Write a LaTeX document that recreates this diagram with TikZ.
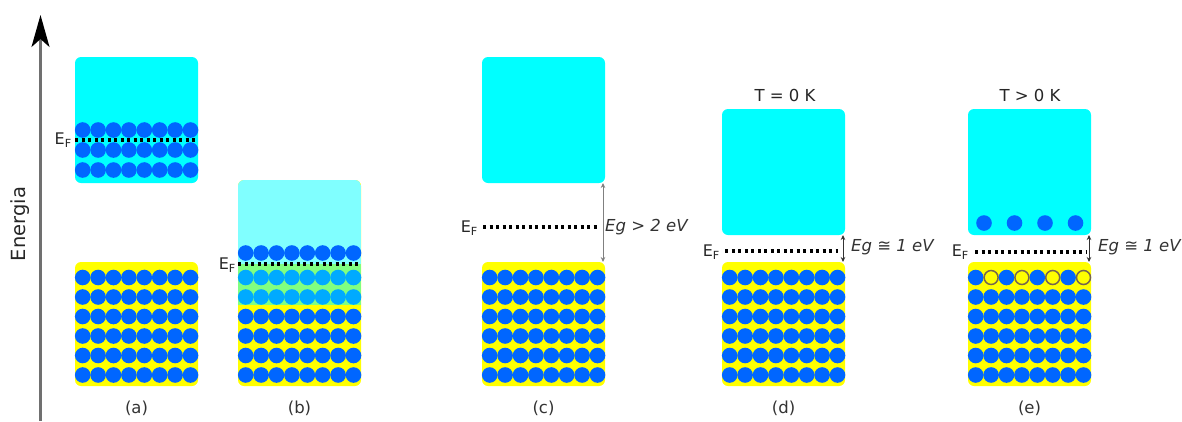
\documentclass[tikz,border=0pt]{standalone}
\usepackage{fontspec}
\setmainfont{DejaVu Sans}
\usetikzlibrary{arrows.meta}
\definecolor{cb}{HTML}{00FFFF}
\definecolor{lcb}{HTML}{80FFFF}
\definecolor{gb}{HTML}{80FF80}
\definecolor{yb}{HTML}{FFFF00}
\definecolor{eblue}{HTML}{0066FF}
\definecolor{elight}{HTML}{00AAFF}
\definecolor{holeline}{HTML}{75654F}
\definecolor{axisgray}{HTML}{707070}
\begin{document}
\begin{tikzpicture}[x=1pt,y=-1pt,
  band/.style={rectangle, rounded corners=6pt, minimum width=123pt, anchor=north west, inner sep=0pt, outer sep=0pt},
  cband/.style={band, fill=cb},
  vband/.style={band, fill=yb},
  edot/.style={circle, fill=eblue, minimum size=15.6pt, inner sep=0pt},
  ldot/.style={circle, fill=elight, minimum size=15.6pt, inner sep=0pt},
  hole/.style={circle, fill=yb, draw=holeline, line width=1.5pt, minimum size=14pt, inner sep=0pt},
  fermi/.style={line width=3.2pt, black, dash pattern=on 3.2pt off 3.3pt},
  gaparrow/.style={{Stealth[length=5pt,width=4.5pt]}-{Stealth[length=5pt,width=4.5pt]}, line width=0.8pt},
  eflabel/.style={font=\fontsize{16}{18}\selectfont, anchor=east, inner sep=1pt, text=black!85},
  gaplabel/.style={font=\fontsize{16.5}{19}\selectfont\itshape, anchor=west, inner sep=1pt, text=black!80},
  sublabel/.style={font=\fontsize{16.5}{19}\selectfont, text=black!80},
  templabel/.style={font=\fontsize{16.5}{19}\selectfont, text=black!85}
]
\useasboundingbox (0,0) rectangle (1182,421);

% energy axis
\coordinate (axb) at (40.5,421);
\coordinate (axt) at (40.5,15);
\draw[axisgray, line width=2.4pt, -{Stealth[black, length=32pt, width=18pt, inset=8pt]}] (axb) -- (axt);
\node[rotate=90, font=\fontsize{19.5}{22}\selectfont, text=black!85] (elab) at (20,224) {Energia};

% ---------- (a) metal ----------
\node[cband, minimum height=126pt] (au) at (75,57) {};
\node[vband, minimum height=124pt] (al) at (75,262) {};
\foreach \r in {130,150,170}
  \foreach \i in {0,...,7}
    \node[edot] at (82.7+15.4*\i,\r) {};
\foreach \r in {0,...,5}
  \foreach \i in {0,...,7}
    \node[edot] at (82.7+15.4*\i,277.5+19.5*\r) {};
\draw[fermi] (75,140) -- (198,140);
\node[eflabel] (efa) at (73,140) {E\textsubscript{F}};
\node[sublabel] (la) at (136.5,408) {(a)};

% ---------- (b) semimetal ----------
\node[vband, minimum height=206pt] (bb) at (238,180) {};
\begin{scope}
  \clip[rounded corners=6pt] (238,180) rectangle (361,386);
  \fill[lcb] (238,180) rectangle (361,264);
  \fill[gb] (238,264) rectangle (361,305);
\end{scope}
\foreach \i in {0,...,7}
  \node[edot] at (245.7+15.4*\i,253) {};
\foreach \r in {277.5,297}
  \foreach \i in {0,...,7}
    \node[ldot] at (245.7+15.4*\i,\r) {};
\foreach \r in {0,...,3}
  \foreach \i in {0,...,7}
    \node[edot] at (245.7+15.4*\i,316.5+19.5*\r) {};
\draw[fermi] (238,264) -- (361,264);
\node[eflabel] (efb) at (237,265) {E\textsubscript{F}};
\node[sublabel] (lb) at (299.5,408) {(b)};

% ---------- (c) insulator ----------
\node[cband, minimum height=126pt] (cu) at (482,57) {};
\node[vband, minimum height=124pt] (cl) at (482,262) {};
\foreach \r in {0,...,5}
  \foreach \i in {0,...,7}
    \node[edot] at (489.7+15.4*\i,277.5+19.5*\r) {};
\draw[fermi] (483,227) -- (599,227);
\node[eflabel] (efc) at (479,228) {E\textsubscript{F}};
\draw[gaparrow, gray] ([xshift=-2pt]cu.south east) -- ([xshift=-2pt]cl.north east);
\node[gaplabel] (gc) at (604,227) {Eg > 2 eV};
\node[sublabel] (lc) at (543.5,408) {(c)};

% ---------- (d) semiconductor T = 0 K ----------
\node[templabel] (td) at (785,95) {T = 0 K};
\node[cband, minimum height=126pt] (du) at (722,109) {};
\node[vband, minimum height=124pt] (dl) at (722,262) {};
\foreach \r in {0,...,5}
  \foreach \i in {0,...,7}
    \node[edot] at (729.7+15.4*\i,277.5+19.5*\r) {};
\draw[fermi] (725,251) -- (838,251);
\node[eflabel] (efd) at (721,252) {E\textsubscript{F}};
\draw[gaparrow, black!80] ([xshift=-2pt]du.south east) -- ([xshift=-2pt]dl.north east);
\node[gaplabel] (gd) at (850,247) {Eg ≅ 1 eV};
\node[sublabel] (ld) at (783.5,408) {(d)};

% ---------- (e) semiconductor T > 0 K ----------
\node[templabel] (te) at (1030,95) {T > 0 K};
\node[cband, minimum height=126pt] (eu) at (968,109) {};
\node[vband, minimum height=124pt] (el) at (968,262) {};
\foreach \x in {984,1014.5,1045,1075.5}
  \node[edot] at (\x,223) {};
\foreach \i in {0,2,4,6}
  \node[edot] at (975.7+15.4*\i,277.5) {};
\foreach \i in {1,3,5,7}
  \node[hole] at (975.7+15.4*\i,277.5) {};
\foreach \r in {1,...,5}
  \foreach \i in {0,...,7}
    \node[edot] at (975.7+15.4*\i,277.5+19.5*\r) {};
\draw[fermi] (975,252) -- (1086,252);
\node[eflabel] (efe) at (970,252) {E\textsubscript{F}};
\draw[gaparrow, black!80] ([xshift=-2pt]eu.south east) -- ([xshift=-2pt]el.north east);
\node[gaplabel] (ge) at (1097,247) {Eg ≅ 1 eV};
\node[sublabel] (le) at (1029.5,408) {(e)};
\end{tikzpicture}
\end{document}
